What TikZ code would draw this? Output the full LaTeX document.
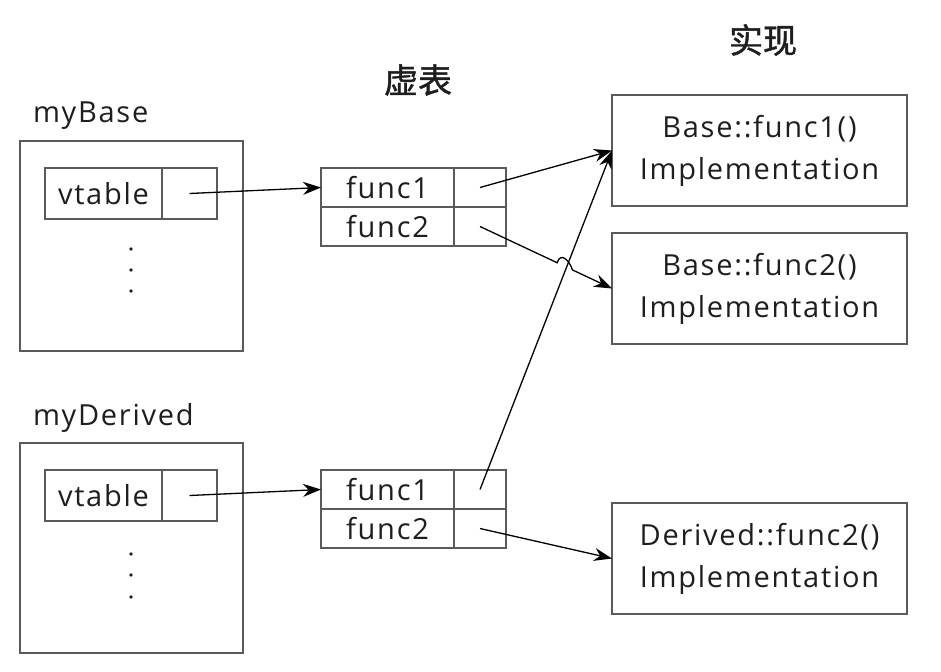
\documentclass[tikz,border=0pt]{standalone}
\usepackage{fontspec}
\setmainfont{Open Sans}[LetterSpace=6]
\newfontfamily\cjk{Noto Sans CJK SC}[FakeBold=1.2]
\usetikzlibrary{arrows.meta,calc}
\definecolor{boxgray}{HTML}{5A5A5A}
\definecolor{txt}{HTML}{1E1E1E}
\begin{document}
\begin{tikzpicture}[x=1pt,y=-1pt,
  every node/.style={inner sep=0pt, outer sep=0pt, text=txt},
  lbl/.style={font=\fontsize{29}{32}\selectfont},
  box/.style={draw=boxgray, line width=1.6pt, anchor=north west, font=\fontsize{29}{32}\selectfont},
  impl/.style={box, minimum width=295pt, minimum height=111pt, align=center, font=\fontsize{29}{42}\selectfont},
  title/.style={font=\cjk\fontsize{34}{36}\selectfont},
  dotmark/.style={circle, fill=txt, minimum size=3.6pt},
  arr/.style={-{Stealth[length=18pt,width=13pt]}, line width=1.3pt, black}]
\useasboundingbox (0,0) rectangle (941,671);

% titles
\node[title] (tvt) at (418,80) {虚表};
\node[title] (timpl) at (763,40) {实现};

% myBase object
\node[lbl, anchor=base west] (lbase) at (33,123) {myBase};
\node[box, minimum width=223pt, minimum height=210pt] (bobj) at (20,141) {};
\node[box, minimum width=117pt, minimum height=51pt] (bvt) at (45,168) {vtable};
\node[box, minimum width=55pt, minimum height=51pt] (bptr) at (162,168) {};
\node[dotmark] (bd1) at (131,249) {};
\node[dotmark] (bd2) at (131,270) {};
\node[dotmark] (bd3) at (131,291) {};

% myDerived object
\node[lbl, anchor=base west] (lder) at (33,425) {myDerived};
\node[box, minimum width=223pt, minimum height=210pt] (dobj) at (20,443) {};
\node[box, minimum width=117pt, minimum height=51pt] (dvt) at (45,470) {vtable};
\node[box, minimum width=55pt, minimum height=51pt] (dptr) at (162,470) {};
\node[dotmark] (dd1) at (131,554) {};
\node[dotmark] (dd2) at (131,575) {};
\node[dotmark] (dd3) at (131,597) {};

% Base vtable
\node[box, minimum width=133pt, minimum height=39pt] (tf1) at (321,168) {func1};
\node[box, minimum width=52pt, minimum height=39pt] (tp1) at (454,168) {};
\node[box, minimum width=133pt, minimum height=39pt] (tf2) at (321,207) {func2};
\node[box, minimum width=52pt, minimum height=39pt] (tp2) at (454,207) {};

% Derived vtable
\node[box, minimum width=133pt, minimum height=39pt] (df1) at (321,470) {func1};
\node[box, minimum width=52pt, minimum height=39pt] (dp1) at (454,470) {};
\node[box, minimum width=133pt, minimum height=39pt] (df2) at (321,509) {func2};
\node[box, minimum width=52pt, minimum height=39pt] (dp2) at (454,509) {};

% implementations
\node[impl] (i1) at (612,95) {Base::func1()\\Implementation};
\node[impl] (i2) at (612,233) {Base::func2()\\Implementation};
\node[impl] (i3) at (612,503) {Derived::func2()\\Implementation};

% arrows
\draw[arr] (bptr.center) -- (tf1.west);
\draw[arr] (dptr.center) -- (df1.west);
\draw[arr] (tp1.center) -- (i1.west);
\draw[arr] (dp1.center) -- (i1.west);
\draw[arr] (tp2.center) -- ($(tp2.center)!0.585!(i2.west)$)
  .. controls +(3,-11) and +(-3,-10) .. ($(tp2.center)!0.70!(i2.west)$) -- (i2.west);
\draw[arr] (dp2.center) -- (i3.west);
\end{tikzpicture}
\end{document}
